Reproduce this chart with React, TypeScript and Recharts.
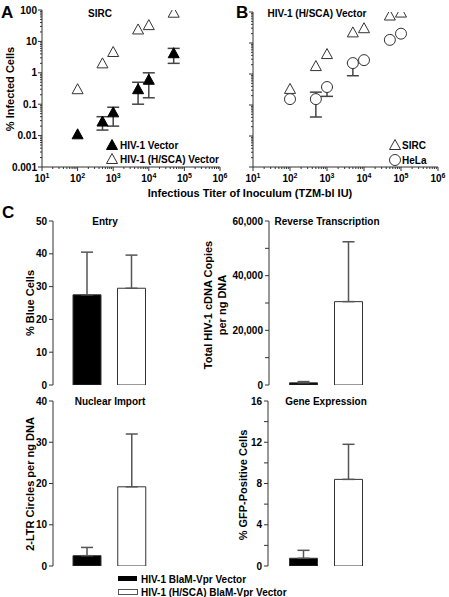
import { ScatterChart, Scatter, XAxis, YAxis, ErrorBar, BarChart, Bar, Cell } from 'recharts';

const FONT = '"Liberation Sans", Arial, Helvetica, sans-serif';
const AXIS = '#333';

// Panel A: SIRC cells, two vectors
const titersA = [100, 500, 1000, 5000, 10000, 50000];
const hivVectorA = [0.011, 0.028, 0.055, 0.3, 0.6, 4.2];
const hivVectorErrA = [null, [0.015, 0.04], [0.02, 0.08], [0.1, 0.5], [0.16, 1.0], [2, 6]];
const hscaVectorA = [0.3, 2, 4.6, 24, 33, 82];

// Panel B: HIV-1 (H/SCA) vector, SIRC vs HeLa
const titersB = [100, 500, 1000, 5000, 10000, 50000, 100000];
const sircB = [0.33, 1.8, 4.4, 22, 30, 77, 96];
const helaB = [0.155, 0.155, 0.38, 2.25, 2.8, 12.6, 20];
const helaErrB = [null, [0.041, 0.26], [0.19, 0.38], [0.88, 2.25], null, null, null];

// log axis ticks
const majorDecades = [0.001, 0.01, 0.1, 1, 10, 100];
const titerDecades = [10, 100, 1000, 10000, 100000, 1000000];
const minorSteps = [1, 2, 3, 4, 5, 6, 7, 8, 9];

// Panel C: bar groups
const groups = ['HIV-1 BlaM-Vpr Vector', 'HIV-1 (H/SCA) BlaM-Vpr Vector'];
const entryMeans = [27.5, 29.5];
const entryUpper = [40.5, 39.6];
const rtMeans = [800, 30500];
const rtUpper = [1250, 52400];
const importMeans = [2.5, 19.2];
const importUpper = [4.5, 32];
const expressionMeans = [0.75, 8.4];
const expressionUpper = [1.52, 11.8];

const entryTicks = [0, 10, 20, 30, 40, 50];
const rtTicks = [0, 10000, 20000, 30000, 40000, 50000, 60000];
const importTicks = [0, 10, 20, 30, 40];
const expressionTicks = [0, 2, 4, 6, 8, 10, 12, 14, 16];

const expandTicks = (decades: number[]) =>
  decades.flatMap((d, i) => (i === decades.length - 1 ? [d] : minorSteps.map((s) => +(s * d).toPrecision(3))));

const xLogTicks = expandTicks(titerDecades);
const yLogTicks = expandTicks(majorDecades);

const points = (xs: number[], ys: number[], errs?: (number[] | null)[]) =>
  xs.map((x, i) => {
    const e = errs ? errs[i] : null;
    return { x, y: ys[i], err: e ? [ys[i] - e[0], e[1] - ys[i]] : undefined };
  });

const barRows = (means: number[], upper: number[]) =>
  groups.map((name, i) => ({ name, value: means[i], err: [0, upper[i] - means[i]] }));

const isMajor = (v: number) => {
  const e = Math.log10(v);
  return Math.abs(e - Math.round(e)) < 1e-6;
};

function LogXTick({ x, y, payload }: any) {
  const v = payload.value;
  const major = isMajor(v);
  return (
    <g>
      <line x1={x} x2={x} y1={y} y2={y + (major ? 4 : 2)} stroke={AXIS} />
      {major && (
        <text x={x} y={y + 15} textAnchor="middle" fontSize={10} fontWeight="bold" fontFamily={FONT} fill="#000">
          10<tspan dy={-4} fontSize={7}>{Math.round(Math.log10(v))}</tspan>
        </text>
      )}
    </g>
  );
}

function LogYTick({ x, y, payload, labels }: any) {
  const v = payload.value;
  const major = isMajor(v);
  return (
    <g>
      <line x1={x} x2={x - (major ? 4 : 2)} y1={y} y2={y} stroke={AXIS} />
      {major && labels && (
        <text x={x - 5} y={y + 3.5} textAnchor="end" fontSize={10} fontWeight="bold" fontFamily={FONT} fill="#000">
          {String(v)}
        </text>
      )}
    </g>
  );
}

const Triangle = ({ cx, cy, filled }: any) => (
  <polygon
    points={`${cx},${cy - 5.5} ${cx + 5.5},${cy + 4.5} ${cx - 5.5},${cy + 4.5}`}
    fill={filled ? '#000' : '#fff'}
    stroke={filled ? '#000' : AXIS}
    strokeWidth={1}
  />
);

const Circle = ({ cx, cy }: any) => <circle cx={cx} cy={cy} r={5.5} fill="#fff" stroke={AXIS} strokeWidth={1} />;

const barTick = { fontSize: 10, fontWeight: 'bold', fill: '#000', fontFamily: FONT };

function BarPanel({ left, top, height, yWidth, right, plotTop, bottom, data, ticks, fmt, pad }: any) {
  return (
    <div style={{ position: 'absolute', left, top }}>
      <BarChart width={200} height={height} data={data} margin={{ top: plotTop, right, bottom, left: 0 }}>
        <XAxis dataKey="name" tick={false} tickLine={false} height={0} stroke={AXIS} padding={pad} />
        <YAxis
          width={yWidth}
          domain={[ticks[0], ticks[ticks.length - 1]]}
          ticks={ticks}
          interval={0}
          allowDataOverflow
          tickSize={4}
          tickMargin={2}
          stroke={AXIS}
          tick={barTick}
          tickFormatter={fmt}
        />
        <Bar dataKey="value" barSize={28} isAnimationActive={false}>
          {data.map((_: any, i: number) => (
            <Cell key={i} fill={i === 0 ? '#000' : '#fff'} stroke={AXIS} strokeWidth={1} />
          ))}
          <ErrorBar dataKey="err" width={6} stroke="#555" direction="y" />
        </Bar>
      </BarChart>
    </div>
  );
}

export default function App() {
  const dataHivA = points(titersA, hivVectorA, hivVectorErrA);
  const dataHscaA = points(titersA, hscaVectorA);
  const dataSircB = points(titersB, sircB);
  const dataHelaB = points(titersB, helaB, helaErrB);

  return (
    <div style={{ position: 'absolute', left: 0, top: 0, width: 449, height: 597, background: '#fff' }}>
      {/* A */}
      <div style={{ position: 'absolute', left: 0, top: 0 }}>
        <ScatterChart width={230} height={200} margin={{ top: 10, right: 10, bottom: 13, left: 0 }}>
          <XAxis
            type="number"
            dataKey="x"
            scale="log"
            domain={[10, 1000000]}
            ticks={xLogTicks}
            interval={0}
            allowDataOverflow
            height={20}
            tickSize={0}
            tickMargin={0}
            stroke={AXIS}
            tick={(p: any) => <LogXTick {...p} />}
          />
          <YAxis
            type="number"
            dataKey="y"
            scale="log"
            domain={[0.001, 100]}
            ticks={yLogTicks}
            interval={0}
            allowDataOverflow
            width={42}
            tickSize={0}
            tickMargin={0}
            stroke={AXIS}
            tick={(p: any) => <LogYTick {...p} labels />}
          />
          <Scatter data={dataHscaA} isAnimationActive={false} shape={(p: any) => <Triangle cx={p.cx} cy={p.cy} />} />
          <Scatter data={dataHivA} isAnimationActive={false} shape={(p: any) => <Triangle cx={p.cx} cy={p.cy} filled />}>
            <ErrorBar dataKey="err" direction="y" width={6} stroke="#444" />
          </Scatter>
        </ScatterChart>
      </div>

      {/* B */}
      <div style={{ position: 'absolute', left: 220, top: 0 }}>
        <ScatterChart width={229} height={200} margin={{ top: 12, right: 11, bottom: 13, left: 0 }}>
          <XAxis
            type="number"
            dataKey="x"
            scale="log"
            domain={[10, 1000000]}
            ticks={xLogTicks}
            interval={0}
            allowDataOverflow
            height={20}
            tickSize={0}
            tickMargin={0}
            stroke={AXIS}
            tick={(p: any) => <LogXTick {...p} />}
          />
          <YAxis
            type="number"
            dataKey="y"
            scale="log"
            domain={[0.001, 100]}
            ticks={yLogTicks}
            interval={0}
            allowDataOverflow
            width={33}
            tickSize={0}
            tickMargin={0}
            stroke={AXIS}
            tick={(p: any) => <LogYTick {...p} />}
          />
          <Scatter data={dataSircB} isAnimationActive={false} shape={(p: any) => <Triangle cx={p.cx} cy={p.cy} />} />
          <Scatter data={dataHelaB} isAnimationActive={false} shape={(p: any) => <Circle cx={p.cx} cy={p.cy} />}>
            <ErrorBar dataKey="err" direction="y" width={6} stroke="#444" />
          </Scatter>
        </ScatterChart>
      </div>

      {/* C */}
      <BarPanel left={0} top={200} height={195} yWidth={53} right={32} plotTop={21} bottom={10}
        data={barRows(entryMeans, entryUpper)} ticks={entryTicks} fmt={(v: number) => String(v)} pad={{ left: 12, right: 14 }} />
      <BarPanel left={215} top={200} height={195} yWidth={54} right={31} plotTop={21} bottom={10}
        data={barRows(rtMeans, rtUpper)} ticks={rtTicks}
        fmt={(v: number) => (v % 20000 === 0 ? v.toLocaleString('en-US') : '')} pad={{ left: 11.5, right: 13.5 }} />
      <BarPanel left={0} top={380} height={200} yWidth={53} right={32} plotTop={21} bottom={14}
        data={barRows(importMeans, importUpper)} ticks={importTicks} fmt={(v: number) => String(v)} pad={{ left: 12, right: 13.5 }} />
      <BarPanel left={215} top={380} height={200} yWidth={53} right={31} plotTop={21} bottom={14}
        data={barRows(expressionMeans, expressionUpper)} ticks={expressionTicks}
        fmt={(v: number) => (v % 4 === 0 ? String(v) : '')} pad={{ left: 12.5, right: 13.5 }} />

      {/* labels, titles and legends */}
      <svg width={449} height={597} style={{ position: 'absolute', left: 0, top: 0, pointerEvents: 'none' }}
        fontFamily={FONT} fontWeight="bold" fill="#000">
        <text x={1} y={18} fontSize={17}>A</text>
        <text x={236} y={18} fontSize={17}>B</text>
        <text x={2} y={218} fontSize={17}>C</text>

        <text x={100} y={17} fontSize={10} textAnchor="middle">SIRC</text>
        <text x={317} y={17} fontSize={10} textAnchor="middle">HIV-1 (H/SCA) Vector</text>
        <text x={250} y={197} fontSize={11} textAnchor="middle">Infectious Titer of Inoculum (TZM-bl IU)</text>
        <text transform="translate(14,89) rotate(-90)" fontSize={11} textAnchor="middle">% Infected Cells</text>

        <Triangle cx={112} cy={145} filled />
        <text x={120} y={149} fontSize={10}>HIV-1 Vector</text>
        <Triangle cx={112} cy={159} />
        <text x={120} y={163} fontSize={10}>HIV-1 (H/SCA) Vector</text>

        <Triangle cx={395} cy={145} />
        <text x={402} y={149} fontSize={10}>SIRC</text>
        <Circle cx={395} cy={160} />
        <text x={402} y={164} fontSize={10}>HeLa</text>

        <text x={105} y={225} fontSize={10} textAnchor="middle">Entry</text>
        <text x={327} y={225} fontSize={10} textAnchor="middle">Reverse Transcription</text>
        <text x={110} y={405} fontSize={10} textAnchor="middle">Nuclear Import</text>
        <text x={326} y={405} fontSize={10} textAnchor="middle">Gene Expression</text>

        <text transform="translate(34,303) rotate(-90)" fontSize={11} textAnchor="middle">% Blue Cells</text>
        <text transform="translate(212,305) rotate(-90)" fontSize={11} textAnchor="middle">Total HIV-1 cDNA Copies</text>
        <text transform="translate(226,305) rotate(-90)" fontSize={11} textAnchor="middle">per ng DNA</text>
        <text transform="translate(34,484) rotate(-90)" fontSize={11} textAnchor="middle">2-LTR Circles per ng DNA</text>
        <text transform="translate(247,485) rotate(-90)" fontSize={11} textAnchor="middle">% GFP-Positive Cells</text>

        <rect x={118} y={576} width={19} height={5} fill="#000" />
        <text x={141} y={583} fontSize={10}>{groups[0]}</text>
        <rect x={118.5} y={589.5} width={19} height={5} fill="#fff" stroke="#555" />
        <text x={141} y={596} fontSize={10}>{groups[1]}</text>
      </svg>
    </div>
  );
}
